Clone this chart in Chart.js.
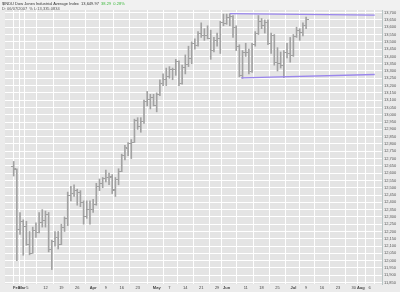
<!DOCTYPE html>
<html>
<head>
<meta charset="utf-8">
<script src="https://cdn.jsdelivr.net/npm/chart.js@4"></script>
<style>
body { margin: 0; background: #ebebeb; }
#wrap { position: relative; width: 400px; height: 292px; }
canvas { position: absolute; left: 0; top: 0; }
.hd { position: absolute; left: 2px; font: 4px "Liberation Sans", Arial, sans-serif; color: #333; white-space: nowrap; }
</style>
</head>
<body>
<div id="wrap">
  <canvas id="chart" width="400" height="292"></canvas>
  <div class="hd" style="top:1px">$INDU Dow Jones Industrial Average Index &nbsp;13,649.97 &nbsp;<span style="color:#3cb83c">38.29 &nbsp;0.28%</span></div>
  <div class="hd" style="top:6px;color:#555">D: 06/07/2007 &nbsp;% L:13,335.0834</div>
</div>
<script>
// trading days, Feb 26 - Jul 9 2007
const days = [
  'Feb 26','Feb 27','Feb 28','Mar 1','Mar 2','Mar 5','Mar 6','Mar 7','Mar 8','Mar 9',
  'Mar 12','Mar 13','Mar 14','Mar 15','Mar 16','Mar 19','Mar 20','Mar 21','Mar 22','Mar 23',
  'Mar 26','Mar 27','Mar 28','Mar 29','Mar 30','Apr 2','Apr 3','Apr 4','Apr 5',
  'Apr 9','Apr 10','Apr 11','Apr 12','Apr 13','Apr 16','Apr 17','Apr 18','Apr 19','Apr 20',
  'Apr 23','Apr 24','Apr 25','Apr 26','Apr 27','Apr 30','May 1','May 2','May 3','May 4',
  'May 7','May 8','May 9','May 10','May 11','May 14','May 15','May 16','May 17','May 18',
  'May 21','May 22','May 23','May 24','May 25','May 29','May 30','May 31','Jun 1',
  'Jun 4','Jun 5','Jun 6','Jun 7','Jun 8','Jun 11','Jun 12','Jun 13','Jun 14','Jun 15',
  'Jun 18','Jun 19','Jun 20','Jun 21','Jun 22','Jun 25','Jun 26','Jun 27','Jun 28','Jun 29',
  'Jul 2','Jul 3','Jul 5','Jul 6','Jul 9'
];
const opens = [
  12647,12628,12212,12265,12232,12113,12052,12206,12194,12262,
  12275,12317,12074,12134,12160,12112,12226,12288,12448,12461,
  12480,12468,12396,12300,12350,12354,12383,12510,12530,
  12560,12569,12573,12484,12553,12612,12720,12772,12803,12810,
  12961,12920,12954,13090,13104,13120,13063,13136,13212,13242,
  13265,13312,13309,13362,13215,13327,13347,13384,13488,13478,
  13557,13543,13540,13525,13440,13507,13520,13633,13627,
  13668,13675,13595,13465,13267,13424,13424,13294,13482,13554,
  13639,13613,13635,13489,13545,13360,13352,13337,13427,13422,
  13409,13535,13577,13565,13612
];
const highs = [
  12680,12630,12330,12280,12270,12200,12230,12260,12330,12350,
  12340,12330,12140,12200,12200,12250,12300,12470,12510,12520,
  12490,12480,12410,12410,12410,12420,12530,12560,12570,
  12620,12600,12590,12570,12630,12730,12790,12810,12830,12970,
  12980,12980,13100,13160,13140,13140,13150,13240,13280,13320,
  13330,13320,13380,13370,13340,13410,13470,13500,13520,13570,
  13630,13590,13610,13580,13530,13560,13640,13690,13690,
  13692,13680,13610,13480,13440,13490,13450,13490,13570,13680,
  13660,13650,13650,13560,13550,13460,13430,13440,13490,13530,
  13550,13600,13590,13630,13670
];
const lows = [
  12580,12000,12180,12037,12105,12040,12050,12160,12190,12230,
  12230,12060,11939,12100,12080,12110,12200,12240,12410,12440,
  12380,12370,12250,12290,12250,12330,12380,12480,12500,
  12540,12520,12460,12440,12520,12610,12690,12720,12700,12810,
  12900,12880,12940,13060,13040,13060,13020,13130,13200,13200,
  13250,13240,13270,13200,13210,13280,13330,13350,13450,13470,
  13530,13510,13520,13380,13430,13470,13420,13610,13620,
  13610,13530,13440,13260,13250,13400,13280,13290,13470,13550,
  13590,13560,13480,13420,13340,13300,13320,13255,13390,13360,
  13400,13530,13510,13540,13590
];
const closes = [
  12632,12216,12269,12234,12114,12050,12208,12192,12261,12276,
  12319,12076,12133,12160,12110,12226,12288,12448,12461,12481,
  12469,12397,12300,12349,12354,12382,12510,12530,12560,
  12569,12574,12485,12553,12612,12720,12773,12804,12809,12962,
  12919,12954,13090,13106,13121,13063,13136,13212,13241,13265,
  13313,13309,13363,13215,13326,13347,13384,13488,13477,13557,
  13543,13540,13526,13441,13507,13521,13633,13628,13668,
  13676,13595,13466,13267,13424,13425,13295,13482,13554,13639,
  13613,13635,13489,13546,13360,13352,13338,13428,13422,13409,
  13535,13577,13566,13612,13650
];

// trend lines (trading-day index, price)
const resistX = [68, 113.6];
const resistY = [13693, 13683];
const supportX = [71.6, 113.6];
const supportY = [13253, 13276];

// axis ticks
const xTickPos = [0.9, 2.6, 4.3, 10, 15, 20, 25, 29, 34, 39, 45, 49, 54, 59, 64, 67, 73, 78, 83, 88, 92, 97, 102, 107, 109.2, 112];
const xTickLabels = ['Feb','Mar','5','12','19','26','Apr','9','16','23','May','7','14','21','29','Jun','11','18','25','Jul','9','16','23','30','Aug','6'];
const yTicks = [
  11850,11900,11950,12000,12050,12100,12150,12200,12250,12300,
  12350,12400,12450,12500,12550,12600,12650,12700,12750,12800,
  12850,12900,12950,13000,13050,13100,13150,13200,13250,13300,
  13350,13400,13450,13500,13550,13600,13650,13700
];
const months = ['Feb','Mar','Apr','May','Jun','Jul','Aug'];

function tickMark(side) {
    const c = document.createElement('canvas');
    c.width = 5;
    c.height = 1;
    const g = c.getContext('2d');
    g.fillStyle = '#a0a0a0';
    if (side === 'open') g.fillRect(0, 0, 2, 1);
    else g.fillRect(3, 0, 2, 1);
    return c;
}

const plotBg = {
    id: 'plotBg',
    beforeDraw(chart) {
        const a = chart.chartArea;
        const ctx = chart.ctx;
        ctx.save();
        ctx.fillStyle = '#f1f1f1';
        ctx.fillRect(0, 0, 400, a.top);
        ctx.fillStyle = '#e4e4e4';
        ctx.fillRect(a.left, a.top, a.right - a.left, a.bottom - a.top);
        ctx.restore();
    }
};

const tickFont = { family: '"Liberation Sans", Arial, sans-serif', size: 4 };

new Chart(document.getElementById('chart'), {
    type: 'bar',
    data: {
        datasets: [
            {
                type: 'line',
                data: resistX.map((x, i) => ({ x: x, y: resistY[i] })),
                borderColor: '#9a86ec',
                borderWidth: 1.3,
                pointRadius: 0
            },
            {
                type: 'line',
                data: supportX.map((x, i) => ({ x: x, y: supportY[i] })),
                borderColor: '#9a86ec',
                borderWidth: 1.3,
                pointRadius: 0
            },
            {
                type: 'line',
                showLine: false,
                data: days.map((d, i) => ({ x: i, y: opens[i] })),
                pointStyle: tickMark('open')
            },
            {
                type: 'line',
                showLine: false,
                data: days.map((d, i) => ({ x: i, y: closes[i] })),
                pointStyle: tickMark('close')
            },
            {
                type: 'bar',
                data: days.map((d, i) => ({ x: i, y: [lows[i], highs[i]] })),
                backgroundColor: '#a2a2a2',
                barThickness: 1,
                borderWidth: 0
            }
        ]
    },
    options: {
        responsive: false,
        animation: false,
        layout: { padding: { top: 10, left: 0, right: 0, bottom: 0 } },
        plugins: { legend: { display: false }, tooltip: { enabled: false } },
        scales: {
            x: {
                type: 'linear',
                min: -0.45,
                max: 113.6,
                afterBuildTicks: (s) => { s.ticks = xTickPos.map(v => ({ value: v })); },
                afterFit: (s) => { s.height = 8; },
                ticks: {
                    autoSkip: false,
                    maxRotation: 0,
                    padding: 1,
                    color: '#444',
                    font: (ctx) => {
                        const lbl = xTickLabels[ctx.index];
                        return Object.assign({}, tickFont, { weight: months.includes(lbl) ? 'bold' : 'normal' });
                    },
                    callback: (v, i) => xTickLabels[i]
                },
                grid: { color: '#ffffff', drawTicks: false },
                border: { display: false }
            },
            y: {
                position: 'right',
                min: 11840,
                max: 13718,
                afterBuildTicks: (s) => { s.ticks = yTicks.map(v => ({ value: v })); },
                afterFit: (s) => { s.width = 18; },
                ticks: {
                    autoSkip: false,
                    padding: 2,
                    color: '#555',
                    font: tickFont,
                    callback: (v) => v.toLocaleString('en-US')
                },
                grid: { color: '#ffffff', drawTicks: false },
                border: { display: true, color: '#b8c4c4' }
            }
        }
    },
    plugins: [plotBg]
});
</script>
</body>
</html>
